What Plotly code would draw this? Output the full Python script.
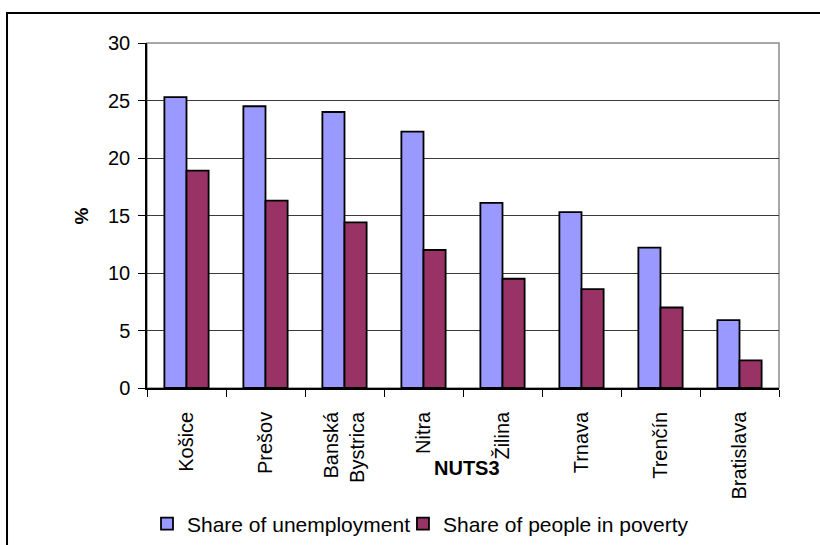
import plotly.graph_objects as go

# Slovak NUTS3 regions
regions = ["Košice", "Prešov", "Banská<br>Bystrica", "Nitra", "Žilina",
           "Trnava", "Trenčín", "Bratislava"]
unemployment_share = [25.3, 24.5, 24.0, 22.3, 16.1, 15.3, 12.2, 5.9]
poverty_share = [18.9, 16.3, 14.4, 12.0, 9.5, 8.6, 7.0, 2.4]
y_ticks = [0, 5, 10, 15, 20, 25, 30]

FONT = "Liberation Sans, Arial, sans-serif"

fig = go.Figure()
fig.add_trace(go.Bar(
    x=regions, y=unemployment_share, name="Share of unemployment",
    marker=dict(color="#9999FF", line=dict(color="black", width=1.8)),
    legend="legend", showlegend=True,
))
fig.add_trace(go.Bar(
    x=regions, y=poverty_share, name="Share of people in poverty",
    marker=dict(color="#993366", line=dict(color="black", width=1.8)),
    legend="legend2", showlegend=True,
))

fig.update_layout(
    width=820, height=545,
    margin=dict(l=147, r=41, t=43, b=157, autoexpand=False),
    paper_bgcolor="white", plot_bgcolor="white",
    font=dict(family=FONT, size=19, color="black"),
    barmode="group", bargap=0.44, bargroupgap=0,
    showlegend=True,
    legend=dict(orientation="h", x=0.0, y=-0.394, xanchor="left", yanchor="middle",
                font=dict(size=21), bgcolor="rgba(0,0,0,0)"),
    legend2=dict(orientation="h", x=0.405, y=-0.394, xanchor="left", yanchor="middle",
                 font=dict(size=21), bgcolor="rgba(0,0,0,0)"),
    xaxis=dict(
        type="category", tickangle=-90, tickson="boundaries",
        ticks="outside", ticklen=7, tickcolor="black",
        showline=True, linecolor="black", linewidth=1.5,
        showgrid=False, tickfont=dict(size=20), automargin=False,
        ticklabelstandoff=14,
    ),
    yaxis=dict(
        range=[0, 30], tickvals=y_ticks, ticks="outside", ticklen=7,
        tickcolor="black", showline=True, linecolor="black", linewidth=1.5,
        showgrid=True, gridcolor="#3a3a3a", gridwidth=1, zeroline=False,
        tickfont=dict(size=20), automargin=False, ticklabelstandoff=4,
    ),
    shapes=[
        # grey frame of the plotting area (top and right edges)
        dict(type="rect", xref="paper", yref="paper", x0=0, x1=1, y0=0, y1=1,
             line=dict(color="#8c8c8c", width=1.5), layer="below"),
        # outer chart border
        dict(type="rect", xref="paper", yref="paper",
             x0=-0.2215, x1=1.1, y0=-0.5, y1=1.087,
             line=dict(color="black", width=2), layer="above"),
    ],
    annotations=[
        dict(text="<b>%</b>", xref="paper", yref="paper", x=-0.103, y=0.5,
             textangle=-90, showarrow=False, font=dict(size=19),
             xanchor="center", yanchor="middle"),
        dict(text="<b>NUTS3</b>", xref="paper", yref="paper", x=0.506, y=-0.232,
             showarrow=False, font=dict(size=20),
             xanchor="center", yanchor="middle"),
    ],
)

fig.write_html("out.html")
